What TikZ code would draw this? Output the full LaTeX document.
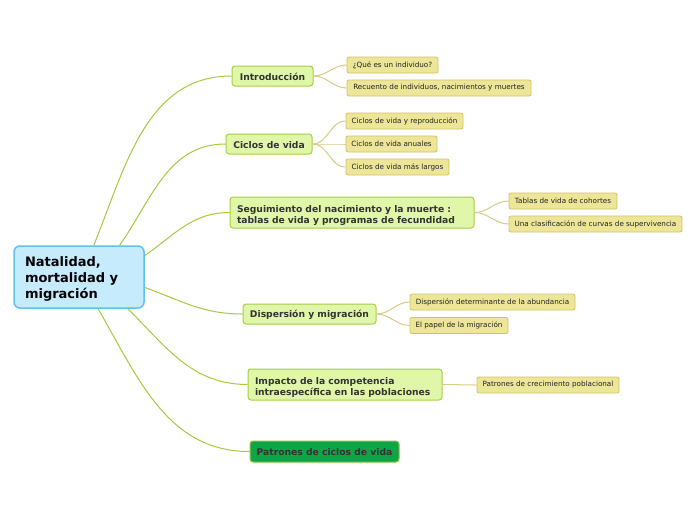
\documentclass[tikz,border=0pt]{standalone}
\usepackage{fontspec}
\setmainfont{DejaVu Sans}
\definecolor{rootfill}{HTML}{C6EBFD}
\definecolor{rootline}{HTML}{5EC1EE}
\definecolor{mainfill}{HTML}{E0F6A9}
\definecolor{mainline}{HTML}{A7CF43}
\definecolor{maintext}{HTML}{333333}
\definecolor{leaffill}{HTML}{EDE698}
\definecolor{leafline}{HTML}{CFC466}
\definecolor{leaftext}{HTML}{222222}
\definecolor{darkfill}{HTML}{0DA44A}
\definecolor{darkline}{HTML}{86C440}
\definecolor{rootedgecol}{HTML}{A5C93F}
\definecolor{leafedgecol}{HTML}{D4CC85}
\newcommand{\lowerby}[1]{\rule{0pt}{#1}}
\tikzset{
 rootbox/.style={draw=rootline, fill=rootfill, line width=1.5pt, rounded corners=6pt, minimum width=130pt, minimum height=62pt, inner xsep=11pt, inner ysep=0pt, text width=108pt, align=left, font=\fontsize{13}{16}\selectfont\bfseries, text=black},
 mainbox/.style={draw=mainline, fill=mainfill, line width=1pt, rounded corners=3pt, minimum height=20pt, inner sep=0pt, font=\fontsize{9.2}{11}\selectfont\bfseries, text=maintext},
 twoline/.style={minimum height=31pt, inner xsep=7pt, align=left},
 darkbox/.style={mainbox, draw=darkline, fill=darkfill, minimum height=21pt},
 leafbox/.style={draw=leafline, fill=leaffill, line width=0.8pt, rounded corners=2pt, minimum height=16pt, inner sep=0pt, font=\fontsize{7.2}{8}\selectfont, text=leaftext},
 rootedge/.style={draw=rootedgecol, line width=1pt},
 leafedge/.style={draw=leafedgecol, line width=1pt},
}
\begin{document}
\begin{tikzpicture}[x=1pt,y=1pt]
\useasboundingbox[fill=white] (0,0) rectangle (696,-520);

% root
\node[rootbox] (root) at (79,-277) {\lowerby{14pt}Natalidad,\\mortalidad y\\migración};

% main topics
\node[mainbox, minimum width=81pt] (intro) at (272.5,-76) {\lowerby{8.6pt}Introducción};
\node[mainbox, minimum width=86pt] (ciclos) at (269,-144) {\lowerby{8.6pt}Ciclos de vida};
\node[mainbox, twoline, text width=230pt] (segui) at (352,-212.5) {\lowerby{12pt}Seguimiento del nacimiento y la muerte :\\tablas de vida y programas de fecundidad};
\node[mainbox, minimum width=133pt] (disp) at (309.5,-314) {\lowerby{8.6pt}Dispersión y migración};
\node[mainbox, twoline, text width=180pt] (impacto) at (345,-384.5) {\lowerby{12pt}Impacto de la competencia\\intraespecífica en las poblaciones};
\node[darkbox, minimum width=149pt] (patrones) at (324.5,-451.5) {\lowerby{8.6pt}Patrones de ciclos de vida};

% leaves
\node[leafbox, minimum width=91pt] (q1) at (392.5,-65) {¿Qué es un individuo?};
\node[leafbox, minimum width=184pt] (q2) at (439,-88) {Recuento de individuos, nacimientos y muertes};
\node[leafbox, minimum width=117pt] (c1) at (404.5,-121) {Ciclos de vida y reproducción};
\node[leafbox, minimum width=91pt] (c2) at (391.5,-144) {Ciclos de vida anuales};
\node[leafbox, minimum width=103pt] (c3) at (397.5,-167) {Ciclos de vida más largos};
\node[leafbox, minimum width=108pt] (s1) at (563,-201) {Tablas de vida de cohortes};
\node[leafbox, minimum width=173pt] (s2) at (595.5,-224) {Una clasificación de curvas de supervivencia};
\node[leafbox, minimum width=165pt] (d1) at (492.5,-302) {Dispersión determinante de la abundancia};
\node[leafbox, minimum width=98pt] (d2) at (459,-325.5) {El papel de la migración};
\node[leafbox, minimum width=142pt] (i1) at (548,-385) {Patrones de crecimiento poblacional};

% root edges
\draw[rootedge] (root.65.7) to[out=68, in=180] (intro.west);
\draw[rootedge] (root.38.5) to[out=55, in=180] (ciclos.west);
\draw[rootedge] (root.18.7) to[out=35, in=180] (segui.west);
\draw[rootedge] (root.-9.6) to[out=-20, in=180] (disp.west);
\draw[rootedge] (root.-33.4) to[out=-45, in=180] (impacto.west);
\draw[rootedge] (root.-59.9) to[out=-60, in=180] (patrones.west);

% leaf edges
\draw[leafedge] (intro.east) to[out=0, in=180] (q1.west);
\draw[leafedge] (intro.east) to[out=0, in=180] (q2.west);
\draw[leafedge] (ciclos.east) to[out=0, in=180] (c1.west);
\draw[leafedge] (ciclos.east) to[out=0, in=180] (c2.west);
\draw[leafedge] (ciclos.east) to[out=0, in=180] (c3.west);
\draw[leafedge] (segui.east) to[out=0, in=180] (s1.west);
\draw[leafedge] (segui.east) to[out=0, in=180] (s2.west);
\draw[leafedge] (disp.east) to[out=0, in=180] (d1.west);
\draw[leafedge] (disp.east) to[out=0, in=180] (d2.west);
\draw[leafedge] (impacto.east) to[out=0, in=180] (i1.west);
\end{tikzpicture}
\end{document}
